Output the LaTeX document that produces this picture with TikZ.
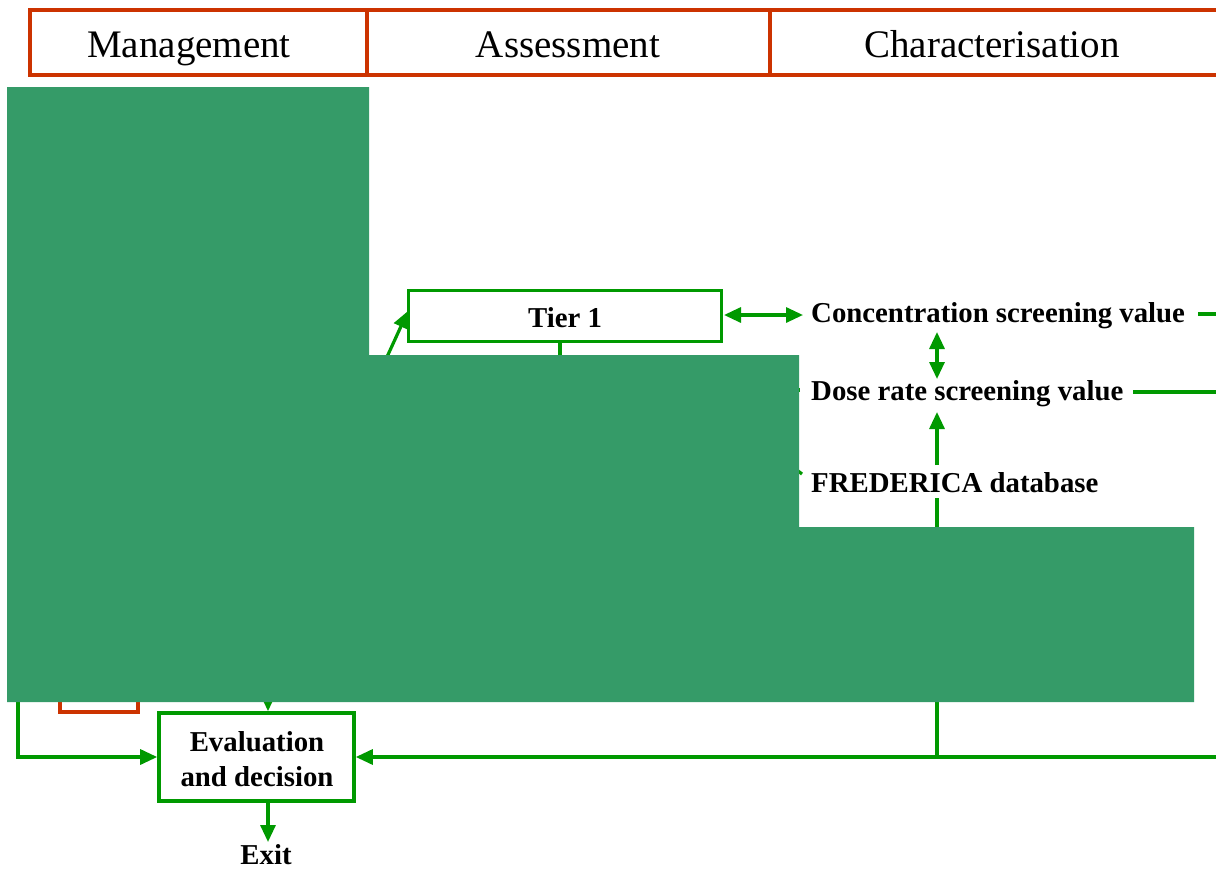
\documentclass[tikz,border=0pt]{standalone}
\usepackage{fontspec}
\setmainfont{Liberation Serif}
\usetikzlibrary{arrows.meta,calc}
\definecolor{flowgreen}{RGB}{0,153,0}
\definecolor{headred}{RGB}{204,51,0}
\definecolor{maskgreen}{RGB}{53,155,104}
\tikzset{
  headcell/.style={font=\fontsize{39}{46}\selectfont, inner sep=0pt, anchor=base},
  label/.style={font=\fontsize{28.8}{35}\selectfont\bfseries, inner sep=0pt, align=center},
  flow/.style={draw=flowgreen, line width=3.2pt},
  tip/.style={-{Triangle[length=17pt,width=15pt]}},
  bitip/.style={{Triangle[length=17pt,width=15pt]}-{Triangle[length=17pt,width=15pt]}},
  redline/.style={draw=headred, line width=3.2pt},
}
\begin{document}
\begin{tikzpicture}[x=1pt,y=-1pt]
\useasboundingbox (0,0) rectangle (1216,868);

% header strip (runs on past the right edge)
\draw[redline] (1220,10) -- (30,10) -- (30,75) -- (1220,75);
\draw[redline] (367,10) -- (367,75);
\draw[redline] (770,10) -- (770,75);
\node[headcell] (hm) at (189,57) {Management};
\node[headcell] (ha) at (568,57) {Assessment};
\node[headcell] (hc) at (992,57) {Characterisation};

% boxes
\node[draw=flowgreen, line width=3pt, minimum width=313pt, minimum height=51pt] (tier1) at (564.5,315.5) {};
\node[label, anchor=base] (tiertext) at (565,327) {Tier 1};
\node[draw=flowgreen, line width=3.6pt, minimum width=195pt, minimum height=88pt] (eval) at (256.5,757) {};
\node[label, anchor=base] (evaltext1) at (257,751) {Evaluation};
\node[label, anchor=base] (evaltext2) at (257,786) {and decision};
\node[label, anchor=base] (exit) at (266,864) {Exit};

% screening values and database
\node[label, anchor=base west] (conc) at (811,322) {Concentration screening value};
\node[label, anchor=base west] (dose) at (811,400) {Dose rate screening value};
\node[label, anchor=base west] (fred) at (811,492) {FREDERICA database};

% helper coordinates
\coordinate (concL) at (803,315);
\coordinate (tierR) at (724,315);
\coordinate (concR) at (1220,314);
\coordinate (concE) at (1198,314);
\coordinate (doseR) at (1220,392);
\coordinate (doseE) at (1133,392);
\coordinate (botR) at (1220,757);
\coordinate (leftbus) at (18,640);
\coordinate (evalin) at (268,640);
\coordinate (tierin) at (365,405);
\coordinate (tierdown) at (560,420);
\coordinate (doseL) at (740,390);
\coordinate (fredL) at (760,442);
\coordinate (colbot) at (937,640);
\coordinate (vUp) at (937,332);
\coordinate (vDn) at (937,379);
\coordinate (fredTop) at (937,465);
\coordinate (fredBot) at (937,498);
\coordinate (doseBot) at (937,412);

% connectors
\draw[flow, bitip] (tierR) -- (concL);
\draw[flow, bitip] (vUp) -- (vDn);
\draw[flow, tip] (fredTop) -- (doseBot);
\draw[flow] (fredBot) -- (937,560);
\draw[flow] (concE) -- (concR);
\draw[flow] (doseE) -- (doseR);
\draw[flow] (tier1.south -| tierdown) -- (tierdown);
\draw[flow, tip] (tierin) -- (408,311);
\draw[flow] (doseL) -- (800,390);
\draw[flow] (fredL) -- (802,474);
\draw[flow] (colbot) -- (937,757);
\draw[flow, tip] (botR) -- (eval.east);
\draw[flow, tip] (leftbus) |- (eval.west);
\draw[flow, tip] (evalin) -- (evalin |- eval.north);
\draw[flow, tip] (evalin |- eval.south) -- (268,842);

% partly hidden box
\draw[redline] (60,620) rectangle (138,712);

% masking panels
\fill[maskgreen] (7,87) -- (369,87) -- (369,355) -- (799,355) -- (799,527)
  -- (1194,527) -- (1194,702) -- (7,702) -- cycle;
\end{tikzpicture}
\end{document}
